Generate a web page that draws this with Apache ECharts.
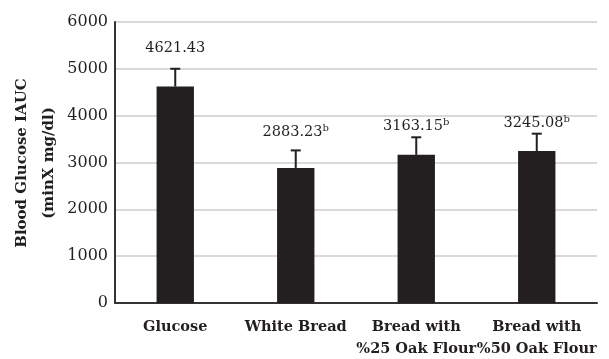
<!DOCTYPE html>
<html>
<head>
<meta charset="utf-8">
<script src="https://cdn.jsdelivr.net/npm/echarts@6/dist/echarts.min.js"></script>
<style>
  html, body { margin: 0; padding: 0; background: #fff; }
  #chart { width: 609px; height: 359px; }
</style>
</head>
<body>
<div id="chart"></div>
<script>
// Blood glucose incremental AUC per test meal
const categories = ['Glucose', 'White Bread', 'Bread with\n%25 Oak Flour', 'Bread with\n%50 Oak Flour'];
const means = [4621.43, 2883.23, 3163.15, 3245.08];
const errors = [380, 375, 375, 370];
const marks = ['', 'b', 'b', 'b'];
const yTicks = [0, 1000, 2000, 3000, 4000, 5000, 6000];
const yTitle = 'Blood Glucose IAUC\n(minX mg/dl)';

const serif = 'DejaVu Serif';
const ink = '#231f20';
// vertical distance (px) from each whisker cap to the middle of its value label
const labelLift = [21, 18, 11, 10];

const chart = echarts.init(document.getElementById('chart'));

chart.setOption({
  animation: false,
  grid: { left: 115, right: 12, top: 22, bottom: 56, containLabel: false, outerBoundsMode: 'none' },
  graphic: [{
    // rotated y-axis title
    type: 'text',
    x: 35.5,
    y: 163,
    rotation: Math.PI / 2,
    style: {
      text: yTitle,
      fill: ink,
      font: 'bold 15px "DejaVu Serif"',
      lineHeight: 27,
      align: 'center',
      verticalAlign: 'middle'
    }
  }],
  xAxis: {
    type: 'category',
    data: categories,
    axisLine: { lineStyle: { color: '#333', width: 2 } },
    axisTick: { show: false },
    axisLabel: {
      color: ink, fontFamily: serif, fontWeight: 'bold', fontSize: 14.5,
      lineHeight: 22, margin: 13, interval: 0
    }
  },
  yAxis: {
    type: 'value',
    min: yTicks[0],
    max: yTicks[yTicks.length - 1],
    interval: 1000,
    axisLine: { show: true, lineStyle: { color: '#333', width: 2 } },
    axisTick: { show: false },
    axisLabel: { color: ink, fontFamily: serif, fontSize: 16, margin: 7, formatter: v => String(v) },
    splitLine: { lineStyle: { color: '#d9d9d9', width: 2 } }
  },
  series: [
    {
      type: 'bar',
      data: means,
      barWidth: '31%',
      itemStyle: { color: ink },
      z: 2
    },
    {
      // standard-error whiskers with value labels above them
      type: 'custom',
      data: means.map((m, i) => [i, m, errors[i]]),
      z: 3,
      renderItem: function (params, api) {
        const i = api.value(0);
        const m = api.value(1);
        const e = api.value(2);
        const base = api.coord([i, m]);
        const top = api.coord([i, m + e]);
        const half = 5;
        const stroke = { stroke: ink, lineWidth: 2 };
        const mark = marks[i];
        return {
          type: 'group',
          children: [
            { type: 'line', shape: { x1: base[0], y1: base[1], x2: top[0], y2: top[1] }, style: stroke },
            { type: 'line', shape: { x1: top[0] - half, y1: top[1], x2: top[0] + half, y2: top[1] }, style: stroke },
            {
              type: 'text',
              x: top[0],
              y: top[1] - labelLift[i],
              style: {
                text: '{v|' + m.toFixed(2) + '}' + (mark ? '{s|' + mark + '}' : ''),
                align: 'center',
                verticalAlign: 'middle',
                rich: {
                  v: { fontFamily: serif, fontSize: 14.5, fill: ink },
                  s: { fontFamily: serif, fontSize: 10, fill: ink, verticalAlign: 'top', padding: [0, 0, 8, 0] }
                }
              }
            }
          ]
        };
      }
    }
  ]
});
</script>
</body>
</html>
